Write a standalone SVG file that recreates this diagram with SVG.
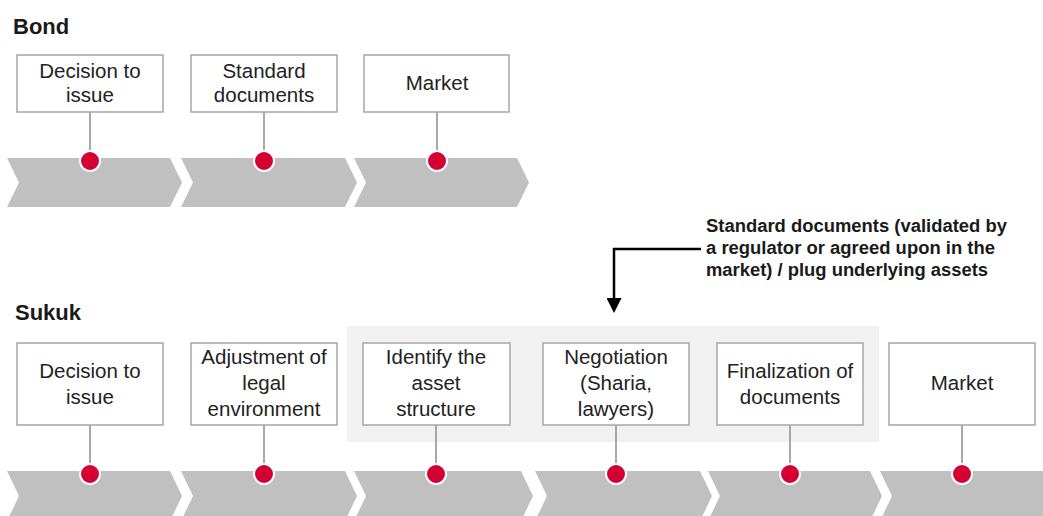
<svg xmlns="http://www.w3.org/2000/svg" width="1043" height="516" viewBox="0 0 1043 516">
<style>
.title{font-family:"Liberation Sans",Arial,sans-serif;font-weight:bold;font-size:22px;fill:#1a1a1a}
.lbl{font-family:"Liberation Sans",Arial,sans-serif;font-size:20.5px;fill:#222;text-anchor:middle}
.note{font-family:"Liberation Sans",Arial,sans-serif;font-weight:bold;font-size:18px;fill:#1a1a1a}
.box{fill:#fff;stroke:#a6a6a6;stroke-width:1.5}
.chev{fill:#c0c0c0}
.stem{stroke:#8c8c8c;stroke-width:1.5;fill:none}
.dot{fill:#d50032;stroke:#fff;stroke-width:2}
</style>
<defs>
<marker id="ah" viewBox="0 0 10 10" refX="0" refY="5" markerWidth="6" markerHeight="6" orient="auto" markerUnits="strokeWidth">
<path d="M0,0 L10,5 L0,10 z" fill="#000"/>
</marker>
</defs>
<rect width="1043" height="516" fill="#fff"/>
<text class="title" x="13" y="34">Bond</text>
<text class="title" x="15" y="320">Sukuk</text>
<rect id="highlight" x="347" y="326" width="532" height="116" fill="#f1f1f1"/>
<g id="chevrons">
<polygon class="chev" points="7,158 170,158 182,182.5 170,207 7,207 19,182.5"/>
<polygon class="chev" points="181,158 345,158 357,182.5 345,207 181,207 193,182.5"/>
<polygon class="chev" points="354,158 517,158 529,182.5 517,207 354,207 366,182.5"/>
<polygon class="chev" points="7,471 170,471 182,496 170,521 7,521 19,496"/>
<polygon class="chev" points="181,471 345,471 357,496 345,521 181,521 193,496"/>
<polygon class="chev" points="354,471 521,471 533,496 521,521 354,521 366,496"/>
<polygon class="chev" points="535,471 700,471 712,496 700,521 535,521 547,496"/>
<polygon class="chev" points="708,471 870,471 882,496 870,521 708,521 720,496"/>
<polygon class="chev" points="880,471 1050,471 1050,521 880,521 892,496"/>
</g>
<g id="connectors">
<line class="stem" x1="90" y1="112" x2="90" y2="154"/>
<line class="stem" x1="264" y1="112" x2="264" y2="154"/>
<line class="stem" x1="437" y1="112" x2="437" y2="154"/>
<line class="stem" x1="90" y1="425" x2="90" y2="466"/>
<line class="stem" x1="264" y1="425" x2="264" y2="466"/>
<line class="stem" x1="436" y1="425" x2="436" y2="466"/>
<line class="stem" x1="616" y1="425" x2="616" y2="466"/>
<line class="stem" x1="790" y1="425" x2="790" y2="466"/>
<line class="stem" x1="962" y1="425" x2="962" y2="466"/>
<path id="note-arrow" d="M701,249 H614 V298" fill="none" stroke="#000" stroke-width="2.5" marker-end="url(#ah)"/>
</g>
<g id="dots">
<circle class="dot" cx="90" cy="161" r="10"/>
<circle class="dot" cx="264" cy="161" r="10"/>
<circle class="dot" cx="437" cy="161" r="10"/>
<circle class="dot" cx="90" cy="474" r="10"/>
<circle class="dot" cx="264" cy="474" r="10"/>
<circle class="dot" cx="436" cy="474" r="10"/>
<circle class="dot" cx="616" cy="474" r="10"/>
<circle class="dot" cx="790" cy="474" r="10"/>
<circle class="dot" cx="962" cy="474" r="10"/>
</g>
<g id="bond-decision">
<rect class="box" x="17" y="55" width="146" height="57"/>
<text class="lbl" x="90" y="78">Decision to</text>
<text class="lbl" x="90" y="102">issue</text>
</g>
<g id="bond-standard">
<rect class="box" x="191" y="55" width="146" height="57"/>
<text class="lbl" x="264" y="78">Standard</text>
<text class="lbl" x="264" y="102">documents</text>
</g>
<g id="bond-market">
<rect class="box" x="364" y="55" width="145" height="57"/>
<text class="lbl" x="437" y="90">Market</text>
</g>
<g id="sukuk-decision">
<rect class="box" x="17" y="343" width="146" height="82"/>
<text class="lbl" x="90" y="378">Decision to</text>
<text class="lbl" x="90" y="404">issue</text>
</g>
<g id="sukuk-adjustment">
<rect class="box" x="191" y="343" width="146" height="82"/>
<text class="lbl" x="264" y="364">Adjustment of</text>
<text class="lbl" x="264" y="390">legal</text>
<text class="lbl" x="264" y="416">environment</text>
</g>
<g id="sukuk-identify">
<rect class="box" x="363" y="343" width="147" height="82"/>
<text class="lbl" x="436" y="364">Identify the</text>
<text class="lbl" x="436" y="390">asset</text>
<text class="lbl" x="436" y="416">structure</text>
</g>
<g id="sukuk-negotiation">
<rect class="box" x="543" y="343" width="146" height="82"/>
<text class="lbl" x="616" y="364">Negotiation</text>
<text class="lbl" x="616" y="390">(Sharia,</text>
<text class="lbl" x="616" y="416">lawyers)</text>
</g>
<g id="sukuk-finalization">
<rect class="box" x="717" y="343" width="146" height="82"/>
<text class="lbl" x="790" y="378">Finalization of</text>
<text class="lbl" x="790" y="404">documents</text>
</g>
<g id="sukuk-market">
<rect class="box" x="889" y="343" width="146" height="82"/>
<text class="lbl" x="962" y="390">Market</text>
</g>
<g id="note">
<text class="note" x="706" y="232" textLength="301" lengthAdjust="spacingAndGlyphs">Standard documents (validated by</text>
<text class="note" x="706" y="254" textLength="289" lengthAdjust="spacingAndGlyphs">a regulator or agreed upon in the</text>
<text class="note" x="706" y="276" textLength="282" lengthAdjust="spacingAndGlyphs">market) / plug underlying assets</text>
</g>
</svg>
